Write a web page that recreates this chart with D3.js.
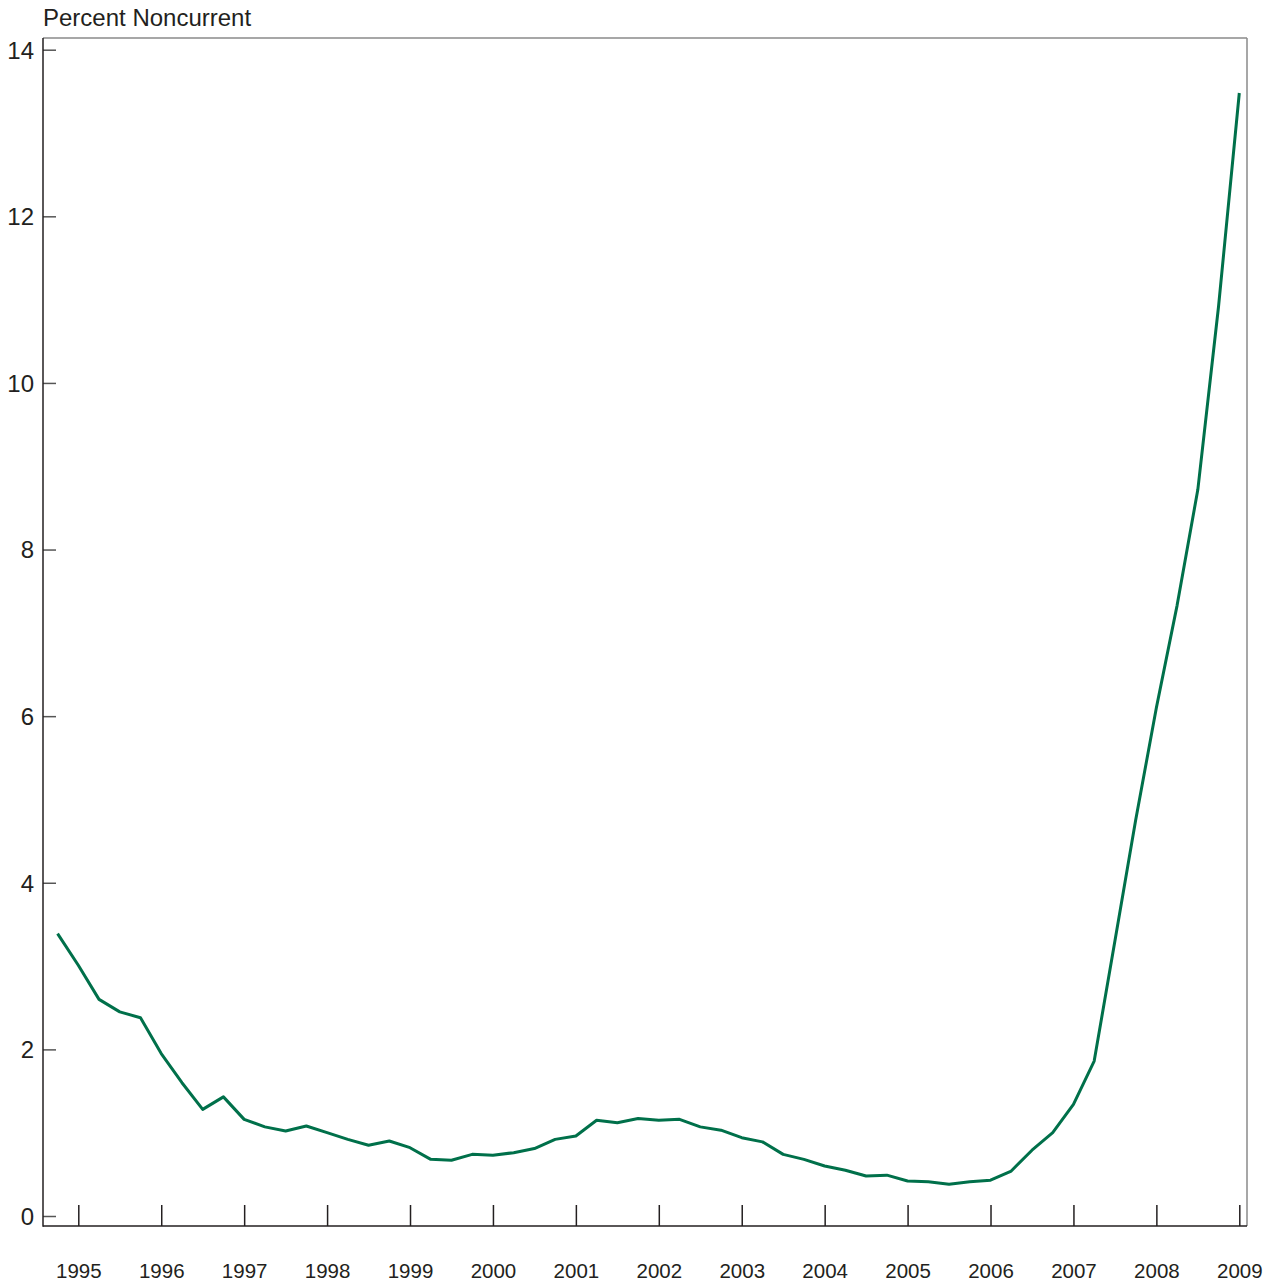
<!DOCTYPE html>
<html>
<head>
<meta charset="utf-8">
<script src="https://cdn.jsdelivr.net/npm/d3@7"></script>
<style>
  html, body { margin: 0; padding: 0; background: #fff; }
  svg { display: block; }
  text { font-family: "Liberation Sans", Arial, sans-serif; fill: #231f20; }
</style>
</head>
<body>
<svg id="chart" width="1279" height="1286"></svg>
<script>
// Quarterly observations (fractional year) and percent noncurrent
const times = [
  1994.75,
  1995.0, 1995.25, 1995.5, 1995.75,
  1996.0, 1996.25, 1996.5, 1996.75,
  1997.0, 1997.25, 1997.5, 1997.75,
  1998.0, 1998.25, 1998.5, 1998.75,
  1999.0, 1999.25, 1999.5, 1999.75,
  2000.0, 2000.25, 2000.5, 2000.75,
  2001.0, 2001.25, 2001.5, 2001.75,
  2002.0, 2002.25, 2002.5, 2002.75,
  2003.0, 2003.25, 2003.5, 2003.75,
  2004.0, 2004.25, 2004.5, 2004.75,
  2005.0, 2005.25, 2005.5, 2005.75,
  2006.0, 2006.25, 2006.5, 2006.75,
  2007.0, 2007.25, 2007.5, 2007.75,
  2008.0, 2008.25, 2008.5, 2008.75,
  2009.0
];
const values = [
  3.39,
  3.01, 2.60, 2.45, 2.38,
  1.95, 1.60, 1.28, 1.43,
  1.16, 1.07, 1.02, 1.08,
  1.00, 0.92, 0.85, 0.90,
  0.82, 0.68, 0.67, 0.74,
  0.73, 0.76, 0.81, 0.92,
  0.96, 1.15, 1.12, 1.17,
  1.15, 1.16, 1.07, 1.03,
  0.94, 0.89, 0.74, 0.68,
  0.60, 0.55, 0.48, 0.49,
  0.42, 0.41, 0.38, 0.41,
  0.43, 0.54, 0.79, 1.00,
  1.34, 1.86, 3.30, 4.75,
  6.10, 7.33, 8.72, 10.92,
  13.48
];
const yearTicks = [1995, 1996, 1997, 1998, 1999, 2000, 2001, 2002, 2003, 2004, 2005, 2006, 2007, 2008, 2009];
const yTicks = [0, 2, 4, 6, 8, 10, 12, 14];
const yTitle = "Percent Noncurrent";

const svg = d3.select("#chart");
const frame = { left: 43, right: 1247, top: 38, bottom: 1226 };

const x = d3.scaleLinear().domain([1995, 2009]).range([78.3, 1239.3]);
const y = d3.scaleLinear().domain([0, 14]).range([1216, 49.7]);

// Frame: top and right borders (gray)
svg.append("line").attr("x1", frame.left).attr("x2", frame.right)
  .attr("y1", frame.top).attr("y2", frame.top)
  .attr("stroke", "#8a8a8a").attr("stroke-width", 1.5);
svg.append("line").attr("x1", frame.right).attr("x2", frame.right)
  .attr("y1", frame.top).attr("y2", frame.bottom)
  .attr("stroke", "#8a8a8a").attr("stroke-width", 1.5);

// Y axis (ticks pointing inward)
const yAxis = d3.axisRight(y).tickValues(yTicks).tickSize(13).tickFormat(d3.format("d"));
const gy = svg.append("g").attr("transform", `translate(${frame.left},0)`).call(yAxis);
gy.select(".domain").remove();
gy.selectAll(".tick line").attr("stroke", "#555").attr("stroke-width", 1.5);
gy.selectAll(".tick text")
  .attr("x", -9).attr("text-anchor", "end").attr("dy", "0.35em")
  .style("font-size", "24px").style("font-family", "'Liberation Sans', Arial, sans-serif")
  .attr("fill", "#231f20");

// X axis (ticks pointing upward)
const xAxis = d3.axisTop(x).tickValues(yearTicks).tickSize(21).tickFormat(d3.format("d"));
const gx = svg.append("g").attr("transform", `translate(0,${frame.bottom})`).call(xAxis);
gx.select(".domain").remove();
gx.selectAll(".tick line").attr("stroke", "#231f20").attr("stroke-width", 1.5);
gx.selectAll(".tick text")
  .attr("y", 51.5).attr("dy", 0).attr("text-anchor", "middle")
  .style("font-size", "20.5px").style("font-family", "'Liberation Sans', Arial, sans-serif")
  .attr("fill", "#231f20");

// Left and bottom axis lines (dark)
svg.append("line").attr("x1", frame.left).attr("x2", frame.left)
  .attr("y1", frame.top).attr("y2", frame.bottom + 0.75)
  .attr("stroke", "#231f20").attr("stroke-width", 1.5);
svg.append("line").attr("x1", frame.left).attr("x2", frame.right)
  .attr("y1", frame.bottom).attr("y2", frame.bottom)
  .attr("stroke", "#231f20").attr("stroke-width", 1.5);

// Title
svg.append("text").attr("x", 43).attr("y", 26)
  .style("font-size", "24px").text(yTitle);

// Line
const data = times.map((t, i) => ({ t, v: values[i] }));
const line = d3.line().x(d => x(d.t)).y(d => y(d.v));
svg.append("path").datum(data)
  .attr("d", line)
  .attr("fill", "none")
  .attr("stroke", "#00704a")
  .attr("stroke-width", 3)
  .attr("stroke-linejoin", "round");
</script>
</body>
</html>
